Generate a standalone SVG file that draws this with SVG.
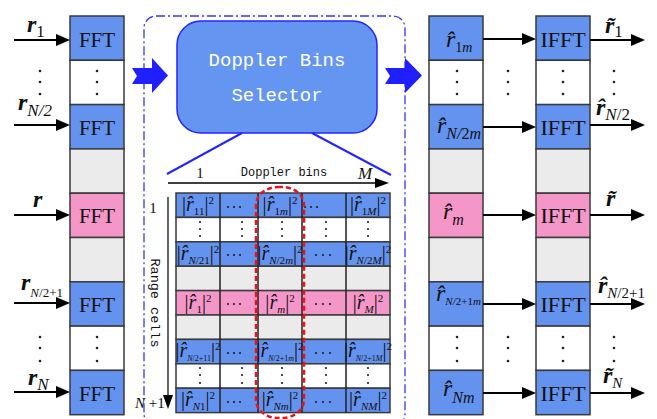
<svg xmlns="http://www.w3.org/2000/svg" width="657" height="419" viewBox="0 0 657 419">
<style>
.blue{fill:#6393ef}
.pink{fill:#f596c8}
.gray{fill:#ebebeb}
.white{fill:#fff}
.cell{stroke:#3a3a3a;stroke-width:1.5}
.t{font-family:"Liberation Serif","Times New Roman",serif;fill:#111}
.blk{font-size:21px;text-anchor:middle}
.blk2{font-size:22px;text-anchor:middle}
.ib{font-weight:bold;font-style:italic;font-size:24px}
.n{font-weight:normal;font-style:normal}
.i{font-style:italic}
.ri{font-style:italic;font-size:24px}
.mono{font-family:"Liberation Mono","DejaVu Sans Mono",monospace}
.g{font-size:20px;text-anchor:middle}
.gs{font-size:11px}
.arr{stroke:#000;stroke-width:2;fill:none;marker-end:url(#ah)}
.dot{fill:#222}
.blockarrow{fill:#1f1fff}
</style>
<defs>
<marker id="ah" markerUnits="userSpaceOnUse" markerWidth="14" markerHeight="12" refX="4" refY="6" orient="auto" viewBox="0 0 14 12">
<path d="M0,0 L14,6 L0,12 Z" fill="#000"/>
</marker>
<marker id="ah2" markerUnits="userSpaceOnUse" markerWidth="14" markerHeight="10" refX="4" refY="5" orient="auto" viewBox="0 0 14 10">
<path d="M0,0 L14,5 L0,10 Z" fill="#000"/>
</marker>
</defs>

<rect id="frame" x="144" y="16" width="261" height="410" rx="12" fill="none" stroke="#3535ff" stroke-width="1.3" stroke-dasharray="9 3 2 3"/>

<!-- left FFT column -->
<g id="fft-col">
<g id="fft1"><rect class="blue cell" x="70" y="16" width="54" height="44.3"/><text class="t blk" x="97" y="47">FFT</text></g>
<g id="fft-dots1"><rect class="white cell" x="70" y="60.3" width="54" height="44.3"/></g>
<g id="fft-n2"><rect class="blue cell" x="70" y="104.6" width="54" height="44.3"/><text class="t blk" x="97" y="135">FFT</text></g>
<g id="fft-gap1"><rect class="gray cell" x="70" y="148.9" width="54" height="44.3"/></g>
<g id="fft-r"><rect class="pink cell" x="70" y="193.2" width="54" height="44.3"/><text class="t blk" x="97" y="223">FFT</text></g>
<g id="fft-gap2"><rect class="gray cell" x="70" y="237.5" width="54" height="44.3"/></g>
<g id="fft-n21"><rect class="blue cell" x="70" y="281.8" width="54" height="44.3"/><text class="t blk" x="97" y="312">FFT</text></g>
<g id="fft-dots2"><rect class="white cell" x="70" y="326.1" width="54" height="44.3"/></g>
<g id="fft-N"><rect class="blue cell" x="70" y="370.4" width="54" height="44.3"/><text class="t blk" x="97" y="401">FFT</text></g>
</g>

<!-- column A -->
<g id="sel-col">
<g id="sel1"><rect class="blue cell" x="429" y="16" width="54" height="44.3"/><text class="t ri" x="446" y="47">r&#x302;<tspan class="n" font-size="14" dy="5">1<tspan class="i">m</tspan></tspan></text></g>
<g id="sel-dots1"><rect class="white cell" x="429" y="60.3" width="54" height="44.3"/></g>
<g id="sel-n2"><rect class="blue cell" x="429" y="104.6" width="54" height="44.3"/><text class="t ri" x="437" y="133">r&#x302;<tspan class="i" font-size="16" dy="6">N/<tspan class="n">2</tspan>m</tspan></text></g>
<g id="sel-gap1"><rect class="gray cell" x="429" y="148.9" width="54" height="44.3"/></g>
<g id="sel-r"><rect class="pink cell" x="429" y="193.2" width="54" height="44.3"/><text class="t ri" x="443" y="219">r&#x302;<tspan font-size="16" dy="6">m</tspan></text></g>
<g id="sel-gap2"><rect class="gray cell" x="429" y="237.5" width="54" height="44.3"/></g>
<g id="sel-n21"><rect class="blue cell" x="429" y="281.8" width="54" height="44.3"/><text class="t ri" x="436" y="301">r&#x302;<tspan class="i" font-size="11" dy="4">N/<tspan class="n">2+1</tspan>m</tspan></text></g>
<g id="sel-dots2"><rect class="white cell" x="429" y="326.1" width="54" height="44.3"/></g>
<g id="sel-N"><rect class="blue cell" x="429" y="370.4" width="54" height="44.3"/><text class="t ri" x="443" y="396">r&#x302;<tspan font-size="16" dy="7">Nm</tspan></text></g>
</g>

<!-- column B -->
<g id="ifft-col">
<g id="ifft1"><rect class="blue cell" x="536" y="16" width="54" height="44.3"/><text class="t blk2" x="563" y="47">IFFT</text></g>
<g id="ifft-dots1"><rect class="white cell" x="536" y="60.3" width="54" height="44.3"/></g>
<g id="ifft-n2"><rect class="blue cell" x="536" y="104.6" width="54" height="44.3"/><text class="t blk2" x="563" y="135">IFFT</text></g>
<g id="ifft-gap1"><rect class="gray cell" x="536" y="148.9" width="54" height="44.3"/></g>
<g id="ifft-r"><rect class="pink cell" x="536" y="193.2" width="54" height="44.3"/><text class="t blk2" x="563" y="223">IFFT</text></g>
<g id="ifft-gap2"><rect class="gray cell" x="536" y="237.5" width="54" height="44.3"/></g>
<g id="ifft-n21"><rect class="blue cell" x="536" y="281.8" width="54" height="44.3"/><text class="t blk2" x="563" y="312">IFFT</text></g>
<g id="ifft-dots2"><rect class="white cell" x="536" y="326.1" width="54" height="44.3"/></g>
<g id="ifft-N"><rect class="blue cell" x="536" y="370.4" width="54" height="44.3"/><text class="t blk2" x="563" y="401">IFFT</text></g>
</g>

<!-- selector box -->
<g id="selector">
<rect x="177" y="21" width="200" height="112" rx="24" fill="#6495f0" stroke="#2424ff" stroke-width="1.5"/>
<text class="mono" x="277" y="66" font-size="19" fill="#fff" text-anchor="middle">Doppler Bins</text>
<text class="mono" x="277" y="101" font-size="19" fill="#fff" text-anchor="middle">Selector</text>
</g>

<!-- block arrows -->
<path id="barrow-left" class="blockarrow" d="M132,68 L152,68 L152,58 L168,75.5 L152,93 L152,84 L132,84 L137,76 Z"/>
<path id="barrow-right" class="blockarrow" d="M385,68 L405,68 L405,58 L422,75.5 L405,93 L405,84 L385,84 L390,76 Z"/>

<!-- grid -->
<g id="grid">
<rect class="blue cell" x="176" y="193" width="214" height="24.4"/>
<rect class="white cell" x="176" y="217.4" width="214" height="24.4"/>
<rect class="blue cell" x="176" y="241.8" width="214" height="24.4"/>
<rect class="gray cell" x="176" y="266.2" width="214" height="24.4"/>
<rect class="pink cell" x="176" y="290.6" width="214" height="24.4"/>
<rect class="gray cell" x="176" y="315" width="214" height="24.4"/>
<rect class="blue cell" x="176" y="339.4" width="214" height="24.4"/>
<rect class="white cell" x="176" y="363.8" width="214" height="24.4"/>
<rect class="blue cell" x="176" y="388.2" width="214" height="24.4"/>
<path d="M220,193 V412.6 M258,193 V412.6 M302,193 V412.6 M346,193 V412.6" stroke="#222" stroke-width="1.5" fill="none"/>

<text class="t g" x="198" y="211">|<tspan class="i">r&#x302;</tspan><tspan class="gs" dy="4">11</tspan><tspan dy="-4">|</tspan><tspan class="gs" dy="-7">2</tspan></text>
<text class="t g" x="280" y="211">|<tspan class="i">r&#x302;</tspan><tspan class="gs" dy="4">1<tspan class="i">m</tspan></tspan><tspan dy="-4">|</tspan><tspan class="gs" dy="-7">2</tspan></text>
<text class="t g" x="368" y="211">|<tspan class="i">r&#x302;</tspan><tspan class="gs" dy="4">1<tspan class="i">M</tspan></tspan><tspan dy="-4">|</tspan><tspan class="gs" dy="-7">2</tspan></text>

<text class="t g" x="198" y="260">|<tspan class="i">r&#x302;</tspan><tspan class="gs" dy="4"><tspan class="i">N</tspan>/21</tspan><tspan dy="-4">|</tspan><tspan class="gs" dy="-7">2</tspan></text>
<text class="t g" x="280" y="260">|<tspan class="i">r&#x302;</tspan><tspan class="gs" dy="4"><tspan class="i">N</tspan>/2<tspan class="i">m</tspan></tspan><tspan dy="-4">|</tspan><tspan class="gs" dy="-7">2</tspan></text>
<text class="t g" x="368" y="260">|<tspan class="i">r&#x302;</tspan><tspan class="gs" dy="4"><tspan class="i">N</tspan>/2<tspan class="i">M</tspan></tspan><tspan dy="-4">|</tspan><tspan class="gs" dy="-7">2</tspan></text>

<text class="t g" x="198" y="309">|<tspan class="i">r&#x302;</tspan><tspan class="gs" dy="4">1</tspan><tspan dy="-4">|</tspan><tspan class="gs" dy="-7">2</tspan></text>
<text class="t g" x="280" y="309">|<tspan class="i">r&#x302;</tspan><tspan class="gs i" dy="4">m</tspan><tspan dy="-4">|</tspan><tspan class="gs" dy="-7">2</tspan></text>
<text class="t g" x="368" y="309">|<tspan class="i">r&#x302;</tspan><tspan class="gs i" dy="4">M</tspan><tspan dy="-4">|</tspan><tspan class="gs" dy="-7">2</tspan></text>

<text class="t g" x="198" y="357">|<tspan class="i">r&#x302;</tspan><tspan font-size="8" dy="4"><tspan class="i">N</tspan>/2+11</tspan><tspan dy="-4">|</tspan><tspan class="gs" dy="-7">2</tspan></text>
<text class="t g" x="280" y="357">|<tspan class="i">r&#x302;</tspan><tspan font-size="8" dy="4"><tspan class="i">N</tspan>/2+1<tspan class="i">m</tspan></tspan><tspan dy="-4">|</tspan><tspan class="gs" dy="-7">2</tspan></text>
<text class="t g" x="368" y="357">|<tspan class="i">r&#x302;</tspan><tspan font-size="8" dy="4"><tspan class="i">N</tspan>/2+1<tspan class="i">M</tspan></tspan><tspan dy="-4">|</tspan><tspan class="gs" dy="-7">2</tspan></text>

<text class="t g" x="198" y="406">|<tspan class="i">r&#x302;</tspan><tspan class="gs" dy="4"><tspan class="i">N</tspan>1</tspan><tspan dy="-4">|</tspan><tspan class="gs" dy="-7">2</tspan></text>
<text class="t g" x="280" y="406">|<tspan class="i">r&#x302;</tspan><tspan class="gs i" dy="4">Nm</tspan><tspan dy="-4">|</tspan><tspan class="gs" dy="-7">2</tspan></text>
<text class="t g" x="368" y="406">|<tspan class="i">r&#x302;</tspan><tspan class="gs i" dy="4">NM</tspan><tspan dy="-4">|</tspan><tspan class="gs" dy="-7">2</tspan></text>

<g class="dot">
<circle cx="228" cy="207" r="1.1"/><circle cx="234" cy="207" r="1.1"/><circle cx="240" cy="207" r="1.1"/>
<circle cx="305" cy="207" r="1.1"/><circle cx="311" cy="207" r="1.1"/><circle cx="317" cy="207" r="1.1"/>
<circle cx="228" cy="255" r="1.1"/><circle cx="234" cy="255" r="1.1"/><circle cx="240" cy="255" r="1.1"/>
<circle cx="316" cy="255" r="1.1"/><circle cx="323" cy="255" r="1.1"/><circle cx="330" cy="255" r="1.1"/>
<circle cx="228" cy="304" r="1.1"/><circle cx="234" cy="304" r="1.1"/><circle cx="240" cy="304" r="1.1"/>
<circle cx="316" cy="304" r="1.1"/><circle cx="323" cy="304" r="1.1"/><circle cx="330" cy="304" r="1.1"/>
<circle cx="228" cy="353" r="1.1"/><circle cx="234" cy="353" r="1.1"/><circle cx="240" cy="353" r="1.1"/>
<circle cx="316" cy="353" r="1.1"/><circle cx="323" cy="353" r="1.1"/><circle cx="330" cy="353" r="1.1"/>
<circle cx="228" cy="402" r="1.1"/><circle cx="234" cy="402" r="1.1"/><circle cx="240" cy="402" r="1.1"/>
<circle cx="316" cy="402" r="1.1"/><circle cx="323" cy="402" r="1.1"/><circle cx="330" cy="402" r="1.1"/>
<circle cx="200" cy="222" r="1.1"/><circle cx="200" cy="229" r="1.1"/><circle cx="200" cy="236" r="1.1"/>
<circle cx="242" cy="222" r="1.1"/><circle cx="242" cy="229" r="1.1"/><circle cx="242" cy="236" r="1.1"/>
<circle cx="282" cy="222" r="1.1"/><circle cx="282" cy="229" r="1.1"/><circle cx="282" cy="236" r="1.1"/>
<circle cx="326" cy="222" r="1.1"/><circle cx="326" cy="229" r="1.1"/><circle cx="326" cy="236" r="1.1"/>
<circle cx="368" cy="222" r="1.1"/><circle cx="368" cy="229" r="1.1"/><circle cx="368" cy="236" r="1.1"/>
<circle cx="200" cy="368" r="1.1"/><circle cx="200" cy="375" r="1.1"/><circle cx="200" cy="383" r="1.1"/>
<circle cx="242" cy="368" r="1.1"/><circle cx="242" cy="375" r="1.1"/><circle cx="242" cy="383" r="1.1"/>
<circle cx="282" cy="368" r="1.1"/><circle cx="282" cy="375" r="1.1"/><circle cx="282" cy="383" r="1.1"/>
<circle cx="326" cy="368" r="1.1"/><circle cx="326" cy="375" r="1.1"/><circle cx="326" cy="383" r="1.1"/>
<circle cx="368" cy="368" r="1.1"/><circle cx="368" cy="375" r="1.1"/><circle cx="368" cy="383" r="1.1"/>
</g>
</g>

<rect id="highlight" x="256" y="187" width="48" height="231" rx="22" ry="18" fill="none" stroke="#e8141b" stroke-width="2.5" stroke-dasharray="5 3"/>

<!-- axes -->
<g id="axes">
<line x1="168" y1="183" x2="379" y2="183" stroke="#000" stroke-width="1.5" marker-end="url(#ah2)"/>
<text class="t" x="200" y="178" font-size="15" text-anchor="middle">1</text>
<text class="mono" x="284" y="176" font-size="12" fill="#111" text-anchor="middle">Doppler bins</text>
<text class="t i" x="365" y="179" font-size="17" text-anchor="middle">M</text>
<line x1="168" y1="197" x2="168" y2="399" stroke="#666" stroke-width="2" marker-end="url(#ah2)"/>
<text class="t" x="153" y="213" font-size="15" text-anchor="middle">1</text>
<text class="mono" x="0" y="0" font-size="13.5" fill="#111" text-anchor="middle" transform="translate(151,303) rotate(90)">Range cells</text>
<text class="t" x="135" y="408" font-size="15"><tspan class="i">N</tspan> +1</text>
</g>

<!-- connectors -->
<g id="connectors">
<line x1="242" y1="133" x2="167" y2="174" stroke="#2424ff" stroke-width="2"/>
<line x1="312" y1="133" x2="391" y2="175" stroke="#2424ff" stroke-width="2"/>
<line class="arr" x1="14" y1="40" x2="60" y2="40"/>
<line class="arr" x1="14" y1="125" x2="60" y2="125"/>
<line class="arr" x1="14" y1="215" x2="60" y2="215"/>
<line class="arr" x1="14" y1="303" x2="60" y2="303"/>
<line class="arr" x1="14" y1="392" x2="60" y2="392"/>
<line class="arr" x1="483" y1="39" x2="526" y2="39"/>
<line class="arr" x1="483" y1="127" x2="526" y2="127"/>
<line class="arr" x1="483" y1="215" x2="526" y2="215"/>
<line class="arr" x1="483" y1="304" x2="526" y2="304"/>
<line class="arr" x1="483" y1="393" x2="526" y2="393"/>
<line class="arr" x1="590" y1="40" x2="635" y2="40"/>
<line class="arr" x1="590" y1="125" x2="635" y2="125"/>
<line class="arr" x1="590" y1="215" x2="635" y2="215"/>
<line class="arr" x1="590" y1="304" x2="635" y2="304"/>
<line class="arr" x1="590" y1="393" x2="635" y2="393"/>
</g>

<!-- labels -->
<g id="input-labels">
<text class="t ib" x="27" y="32">r<tspan class="n" font-size="17" dy="5">1</tspan></text>
<text class="t ib" x="18" y="110">r<tspan class="n i" font-size="17" dy="6"><tspan class="i">N</tspan>/2</tspan></text>
<text class="t ib" x="33" y="207">r</text>
<text class="t ib" x="21" y="290">r<tspan class="n" font-size="13" dy="7"><tspan class="i">N</tspan>/2+1</tspan></text>
<text class="t ib" x="28" y="385">r<tspan class="n i" font-size="17" dy="5">N</tspan></text>
</g>
<g id="output-labels">
<text class="t ib" x="605" y="33">r&#x303;<tspan class="n" font-size="17" dy="4">1</tspan></text>
<text class="t ib" x="596" y="115">r&#x302;<tspan class="n" font-size="17" dy="5"><tspan class="i">N</tspan>/2</tspan></text>
<text class="t ib" x="606" y="206">r&#x303;</text>
<text class="t ib" x="598" y="293">r&#x302;<tspan class="n" font-size="15" dy="5"><tspan class="i">N</tspan>/2+1</tspan></text>
<text class="t ib" x="603" y="383">r&#x303;<tspan class="n i" font-size="15" dy="5">N</tspan></text>
</g>

<g id="ellipsis-dots" class="dot">
<circle cx="40" cy="71" r="1.3"/><circle cx="40" cy="82" r="1.3"/><circle cx="40" cy="94" r="1.3"/>
<circle cx="97" cy="71" r="1.3"/><circle cx="97" cy="82" r="1.3"/><circle cx="97" cy="94" r="1.3"/>
<circle cx="457" cy="71" r="1.3"/><circle cx="457" cy="82" r="1.3"/><circle cx="457" cy="94" r="1.3"/>
<circle cx="508" cy="71" r="1.3"/><circle cx="508" cy="82" r="1.3"/><circle cx="508" cy="94" r="1.3"/>
<circle cx="563" cy="71" r="1.3"/><circle cx="563" cy="82" r="1.3"/><circle cx="563" cy="94" r="1.3"/>
<circle cx="614" cy="71" r="1.3"/><circle cx="614" cy="82" r="1.3"/><circle cx="614" cy="94" r="1.3"/>
<circle cx="40" cy="337" r="1.3"/><circle cx="40" cy="348" r="1.3"/><circle cx="40" cy="361" r="1.3"/>
<circle cx="97" cy="337" r="1.3"/><circle cx="97" cy="348" r="1.3"/><circle cx="97" cy="361" r="1.3"/>
<circle cx="457" cy="337" r="1.3"/><circle cx="457" cy="348" r="1.3"/><circle cx="457" cy="361" r="1.3"/>
<circle cx="508" cy="337" r="1.3"/><circle cx="508" cy="348" r="1.3"/><circle cx="508" cy="361" r="1.3"/>
<circle cx="563" cy="337" r="1.3"/><circle cx="563" cy="348" r="1.3"/><circle cx="563" cy="361" r="1.3"/>
<circle cx="614" cy="337" r="1.3"/><circle cx="614" cy="348" r="1.3"/><circle cx="614" cy="361" r="1.3"/>
</g>
</svg>
